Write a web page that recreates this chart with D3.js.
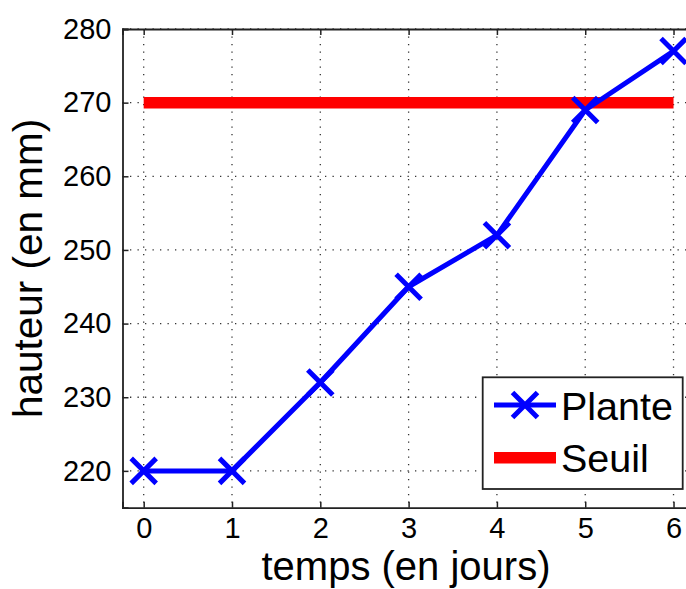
<!DOCTYPE html>
<html><head><meta charset="utf-8">
<script src="https://cdn.jsdelivr.net/npm/d3@7"></script>
<style>body{margin:0;background:#fff}svg{display:block}text{font-family:"Liberation Sans",Arial,sans-serif;fill:#000}</style>
</head><body><svg id="c" width="686" height="589"></svg>
<script>
const days = [0,1,2,3,4,5,6];
const plante = [220,220,232,245,252,269,277];
const seuil = 270;
const xTicks = [0,1,2,3,4,5,6];
const yTicks = [220,230,240,250,260,270,280];
const seriesNames = ["Plante","Seuil"];

const svg = d3.select("#c");
const L=122.5, R=695.6, T=29, B=507.7;
const x = d3.scaleLinear().domain([-0.24,6.25]).range([L,R]);
const y = d3.scaleLinear().domain([215,280]).range([B,T]);

// grid
const g = svg.append("g");
g.selectAll(".vx").data(xTicks).join("line")
 .attr("x1",d=>x(d)).attr("x2",d=>x(d)).attr("y1",T).attr("y2",B)
 .attr("stroke","#333").attr("stroke-width",1.3).attr("stroke-dasharray","1.3,6.2");
g.selectAll(".hy").data(yTicks).join("line")
 .attr("y1",d=>y(d)).attr("y2",d=>y(d)).attr("x1",L).attr("x2",R)
 .attr("stroke","#333").attr("stroke-width",1.3).attr("stroke-dasharray","1.3,6.2");

// axes
const xa = svg.append("g").attr("transform",`translate(0,${B})`)
 .call(d3.axisBottom(x).tickValues(xTicks).tickSize(-6).tickPadding(10).tickFormat(d3.format("d")));
const xt = svg.append("g").attr("transform",`translate(0,${T})`)
 .call(d3.axisTop(x).tickValues(xTicks).tickSize(-6).tickFormat(""));
const ya = svg.append("g").attr("transform",`translate(${L},0)`)
 .call(d3.axisLeft(y).tickValues(yTicks).tickSize(-6).tickPadding(11).tickFormat(d3.format("d")));
[xa,xt,ya].forEach(a=>{
  a.select(".domain").attr("stroke","#222").attr("stroke-width",1.8);
  a.selectAll(".tick line").attr("stroke","#222").attr("stroke-width",1.5);
  a.selectAll("text").style("font-size","29px").attr("fill","#000");
});
xa.selectAll("text").attr("dy","0.71em");

// seuil line
svg.append("line").attr("x1",x(days[0])).attr("x2",x(days[days.length-1]))
 .attr("y1",y(seuil)).attr("y2",y(seuil)).attr("stroke","#ff0000").attr("stroke-width",11.5);

// plante line
const line = d3.line().x((d,i)=>x(days[i])).y(d=>y(d));
svg.append("path").datum(plante).attr("d",line).attr("fill","none")
 .attr("stroke","#0000ff").attr("stroke-width",5).attr("stroke-linejoin","round");
const m=12.5;
const mk = svg.append("g").attr("stroke","#0000ff").attr("stroke-width",5);
plante.forEach((v,i)=>{
  const cx=x(days[i]), cy=y(v);
  mk.append("path").attr("d",`M${cx-m},${cy-m}L${cx+m},${cy+m}M${cx-m},${cy+m}L${cx+m},${cy-m}`);
});

// labels
svg.append("text").attr("x",406).attr("y",580).attr("text-anchor","middle")
 .style("font-size","40px").text("temps (en jours)");
svg.append("text").attr("transform",`translate(42,${(T+B)/2}) rotate(-90)`).attr("text-anchor","middle")
 .style("font-size","40.5px").text("hauteur (en mm)");

// legend
const lg = svg.append("g");
lg.append("rect").attr("x",482.7).attr("y",377.3).attr("width",200).attr("height",111.7)
 .attr("fill","#fff").attr("stroke","#222").attr("stroke-width",1.8);
lg.append("line").attr("x1",494).attr("x2",556).attr("y1",405).attr("y2",405)
 .attr("stroke","#0000ff").attr("stroke-width",5);
lg.append("path").attr("d",`M${525-m},${405-m}L${525+m},${405+m}M${525-m},${405+m}L${525+m},${405-m}`)
 .attr("stroke","#0000ff").attr("stroke-width",5);
lg.append("line").attr("x1",494).attr("x2",556).attr("y1",457.7).attr("y2",457.7)
 .attr("stroke","#ff0000").attr("stroke-width",11.5);
lg.append("text").attr("x",561).attr("y",420).style("font-size","39.5px").text(seriesNames[0]);
lg.append("text").attr("x",561).attr("y",472).style("font-size","39.5px").text(seriesNames[1]);
</script></body></html>
